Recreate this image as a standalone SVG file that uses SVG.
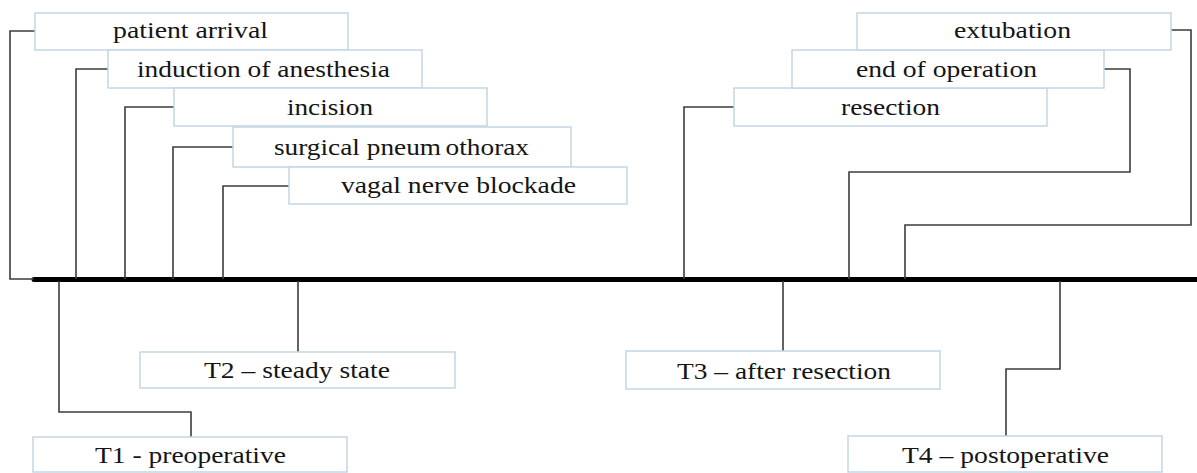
<svg xmlns="http://www.w3.org/2000/svg" width="1197" height="473" viewBox="0 0 1197 473">
<style>
.box{fill:#ffffff;stroke:#c3d6e6;stroke-width:1.5}
.lbl{font-family:"Liberation Serif","Times New Roman",serif;font-size:24px;fill:#151515;text-anchor:middle}
.con{fill:none;stroke:#3c3c3c;stroke-width:1.6}
.main{stroke:#000;stroke-width:5;stroke-linecap:round}
</style>
<rect width="1197" height="473" fill="#fff"/>
<g id="connectors">
<line class="main" x1="34" y1="279.5" x2="1199" y2="279.5"/>
<polyline class="con" points="35,31 10,31 10,279 34,279"/>
<polyline class="con" points="108,69 76,69 76,279"/>
<polyline class="con" points="174,107 125,107 125,279"/>
<polyline class="con" points="233,147 173,147 173,279"/>
<polyline class="con" points="289,186 223,186 223,279"/>
<polyline class="con" points="734,107 684,107 684,279"/>
<polyline class="con" points="1104,69 1130,69 1130,172 849,172 849,279"/>
<polyline class="con" points="1171,30 1191,30 1191,225 905,225 905,279"/>
<polyline class="con" points="59,281 59,412 191,412 191,437"/>
<polyline class="con" points="298,281 298,352"/>
<polyline class="con" points="783,281 783,351"/>
<polyline class="con" points="1060,281 1060,369 1006,369 1006,436"/>
</g>
<g id="patient-arrival"><rect class="box" x="35" y="13" width="313" height="37"/><text class="lbl" x="190.5" y="38" textLength="155" lengthAdjust="spacingAndGlyphs">patient arrival</text></g>
<g id="induction"><rect class="box" x="108" y="50" width="314" height="38"/><text class="lbl" x="263.5" y="77" textLength="253" lengthAdjust="spacingAndGlyphs">induction of anesthesia</text></g>
<g id="incision"><rect class="box" x="174" y="88" width="313" height="38"/><text class="lbl" x="330" y="115" textLength="86" lengthAdjust="spacingAndGlyphs">incision</text></g>
<g id="pneumothorax"><rect class="box" x="233" y="127" width="338" height="40"/><text class="lbl" x="401.5" y="155" textLength="255" lengthAdjust="spacingAndGlyphs">surgical pneum<tspan dx="4">othorax</tspan></text></g>
<g id="vagal"><rect class="box" x="289" y="167" width="338" height="37"/><text class="lbl" x="458.5" y="193" textLength="235" lengthAdjust="spacingAndGlyphs">vagal nerve blockade</text></g>
<g id="resection"><rect class="box" x="734" y="88" width="313" height="38"/><text class="lbl" x="890.5" y="115" textLength="99" lengthAdjust="spacingAndGlyphs">resection</text></g>
<g id="end-of-operation"><rect class="box" x="792" y="50" width="312" height="38"/><text class="lbl" x="946.5" y="77" textLength="181" lengthAdjust="spacingAndGlyphs">end of operation</text></g>
<g id="extubation"><rect class="box" x="857" y="13" width="314" height="37"/><text class="lbl" x="1012.5" y="38" textLength="117" lengthAdjust="spacingAndGlyphs">extubation</text></g>
<g id="T1"><rect class="box" x="33" y="437" width="314" height="35"/><text class="lbl" x="190.5" y="463" textLength="191" lengthAdjust="spacingAndGlyphs">T1 - preoperative</text></g>
<g id="T2"><rect class="box" x="140" y="352" width="315" height="36"/><text class="lbl" x="297" y="378" textLength="186" lengthAdjust="spacingAndGlyphs">T2 – steady state</text></g>
<g id="T3"><rect class="box" x="626" y="351" width="314" height="38"/><text class="lbl" x="784" y="379" textLength="214" lengthAdjust="spacingAndGlyphs">T3 – after resection</text></g>
<g id="T4"><rect class="box" x="848" y="436" width="314" height="36"/><text class="lbl" x="1005.5" y="463" textLength="207" lengthAdjust="spacingAndGlyphs">T4 – postoperative</text></g>
</svg>
